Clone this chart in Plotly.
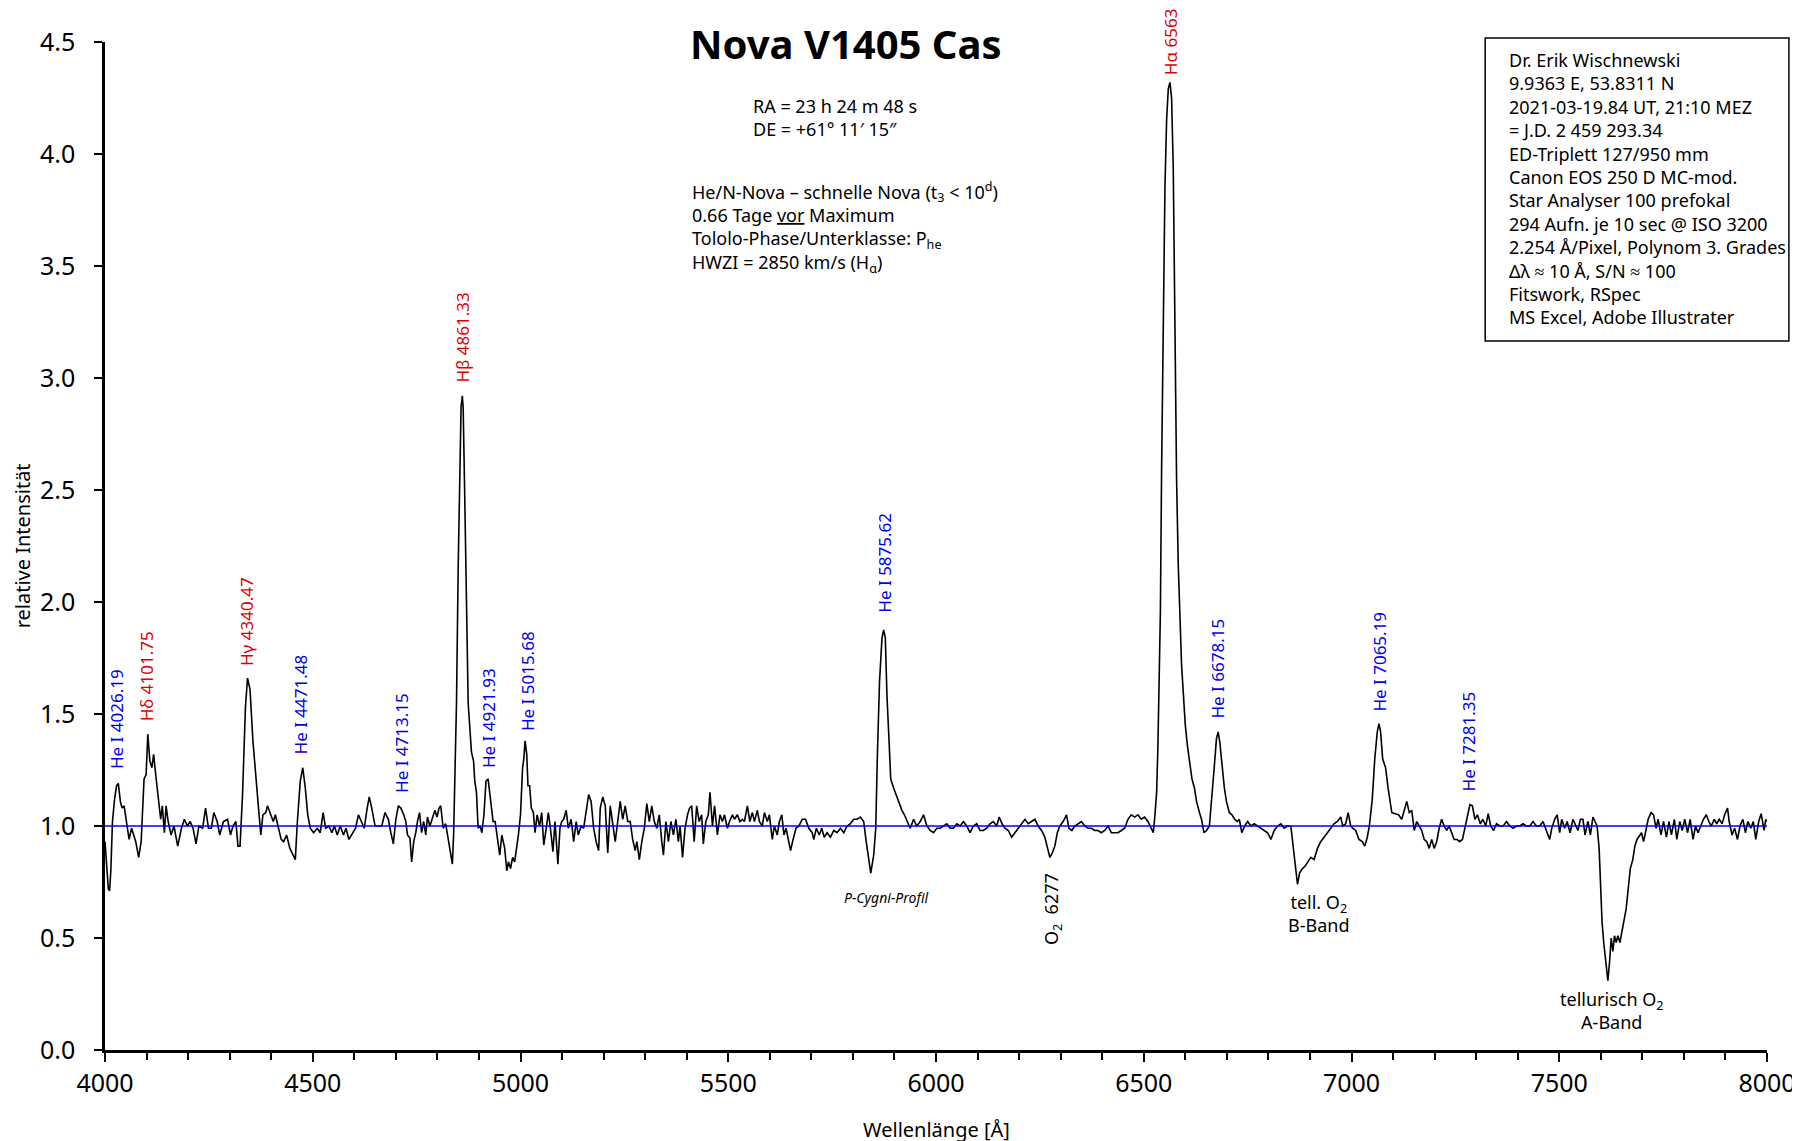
import plotly.graph_objects as go

# spectrum in pieces (wavelength in Angstrom, relative intensity)
wl_blue = [4000, 4004, 4008, 4011, 4014, 4018, 4023, 4028, 4032, 4037, 4041, 4046, 4051, 4058, 4064,
           4074, 4081, 4087, 4094, 4099, 4103, 4108, 4113, 4117, 4122, 4129, 4134, 4138, 4143, 4147,
           4152, 4159, 4166, 4175, 4184, 4191, 4198, 4205, 4212, 4219, 4226, 4235, 4242, 4249, 4256,
           4262, 4270, 4276, 4285, 4295, 4302, 4308, 4315, 4320, 4325, 4331, 4338, 4343, 4349, 4356,
           4364, 4369, 4375, 4380, 4387, 4391, 4399, 4405, 4410, 4417, 4424, 4430, 4437, 4445, 4451,
           4458, 4463, 4470, 4476, 4482, 4488, 4494, 4502, 4511, 4518, 4525, 4531, 4539, 4546, 4552,
           4559, 4566, 4574, 4580, 4587, 4594, 4603, 4610, 4617, 4624, 4631, 4636, 4642]
flux_blue = [0.93, 0.80, 0.72, 0.71, 0.80, 1.02, 1.12, 1.18, 1.19, 1.11, 1.08, 1.09, 1.03, 0.94, 0.99,
             0.93, 0.86, 0.93, 1.21, 1.23, 1.41, 1.29, 1.26, 1.32, 1.23, 1.11, 1.03, 1.09, 0.97, 1.09,
             1.02, 0.96, 1.00, 0.91, 0.99, 1.03, 1.00, 1.02, 0.99, 0.92, 1.00, 0.99, 1.08, 0.99, 0.99,
             1.06, 1.02, 0.96, 1.02, 1.03, 0.96, 1.00, 1.02, 0.91, 0.91, 1.14, 1.53, 1.66, 1.61, 1.38,
             1.18, 1.09, 0.96, 1.05, 1.06, 1.09, 1.05, 1.02, 1.05, 1.00, 0.94, 0.93, 0.96, 0.90, 0.88,
             0.85, 1.02, 1.20, 1.26, 1.17, 1.05, 0.99, 0.97, 0.99, 0.97, 1.06, 0.99, 1.00, 0.97, 1.00,
             0.96, 1.00, 0.96, 0.99, 0.94, 0.96, 0.99, 1.05, 1.02, 0.99, 1.08, 1.13, 1.08]

wl_hbeta = [4650, 4658, 4666, 4674, 4682, 4688, 4694, 4700, 4706, 4712, 4719, 4724, 4728, 4734, 4738,
            4743, 4748, 4752, 4757, 4762, 4767, 4772, 4776, 4782, 4788, 4794, 4799, 4804, 4808, 4814,
            4820, 4824, 4830, 4836, 4839, 4842, 4846, 4850, 4854, 4857, 4860, 4862, 4866, 4870, 4874,
            4878, 4882, 4887, 4890, 4894, 4898, 4903, 4907, 4912, 4917, 4922, 4926, 4930, 4934, 4939,
            4944, 4950, 4955, 4962, 4967, 4971, 4976, 4981, 4986, 4991, 4995, 5000, 5005, 5008, 5011,
            5015, 5018, 5022, 5026, 5031, 5035, 5040, 5046, 5051, 5056, 5062, 5067, 5072, 5078, 5083,
            5090, 5095, 5099, 5104, 5110, 5115, 5122, 5128, 5134, 5139, 5146, 5152]
flux_hbeta = [1.00, 1.00, 1.00, 1.06, 1.03, 0.97, 0.92, 1.03, 1.09, 1.08, 1.05, 1.02, 0.96, 0.945, 0.84,
              0.93, 0.97, 1.02, 1.06, 0.97, 1.02, 0.96, 1.04, 1.00, 1.04, 1.07, 1.04, 1.08, 1.09, 0.99,
              1.01, 0.96, 0.90, 0.83, 0.96, 1.26, 1.55, 2.15, 2.60, 2.87, 2.92, 2.87, 2.45, 1.93, 1.55,
              1.44, 1.33, 1.29, 1.20, 1.15, 0.99, 1.00, 0.97, 1.05, 1.20, 1.21, 1.14, 1.06, 1.02, 1.02,
              0.96, 0.87, 0.96, 0.90, 0.80, 0.84, 0.81, 0.86, 0.84, 0.90, 0.96, 1.05, 1.26, 1.30, 1.38,
              1.32, 1.18, 1.18, 1.08, 1.06, 0.97, 1.05, 1.00, 1.06, 0.915, 0.99, 1.06, 0.99, 0.885, 1.02,
              0.83, 0.99, 1.02, 1.03, 1.07, 0.99, 1.03, 0.93, 1.02, 0.96, 1.00, 0.99]

wl_green = [5164, 5170, 5176, 5182, 5188, 5192, 5198, 5204, 5210, 5216, 5222, 5228, 5234, 5240, 5246,
            5252, 5258, 5264, 5270, 5276, 5280, 5286, 5292, 5298, 5304, 5310, 5316, 5322, 5328, 5334,
            5340, 5344, 5350, 5356, 5362, 5368, 5374, 5380, 5384, 5390, 5396, 5402, 5407, 5412, 5418,
            5424, 5430, 5436, 5440, 5446, 5452, 5456, 5462, 5467, 5474, 5480, 5486, 5491, 5498, 5503,
            5510, 5515, 5522, 5528, 5534, 5539, 5546, 5552, 5558, 5563, 5570, 5575, 5582, 5587, 5594,
            5599, 5606, 5611, 5618, 5623, 5629, 5634, 5639, 5645, 5650, 5656, 5663, 5670, 5678, 5686,
            5694, 5702, 5706, 5712, 5719, 5725, 5731, 5738, 5746, 5754, 5762, 5770, 5778, 5786, 5794,
            5802, 5810, 5818, 5826, 5832, 5838, 5843, 5850, 5855, 5859, 5864, 5870, 5874, 5878, 5882,
            5887, 5891, 5898, 5904, 5911, 5918, 5924, 5931, 5938, 5946, 5954, 5962, 5970, 5978, 5986,
            5994, 6002, 6010, 6018, 6026, 6034, 6042, 6050, 6058, 6066, 6074, 6082, 6090, 6098, 6106]
flux_green = [1.14, 1.11, 0.99, 0.93, 0.89, 1.08, 1.13, 1.09, 0.88, 1.09, 1.02, 0.93, 1.02, 1.11, 1.03,
              1.09, 1.02, 1.02, 0.94, 0.89, 0.93, 0.85, 0.93, 0.99, 1.10, 1.02, 1.09, 1.02, 0.99, 1.05,
              0.93, 0.87, 1.02, 0.93, 1.02, 0.96, 1.03, 0.93, 1.00, 0.86, 0.99, 1.05, 1.08, 1.09, 0.93,
              1.09, 1.02, 1.05, 0.92, 1.02, 1.05, 1.15, 1.00, 1.09, 0.96, 1.05, 1.02, 1.05, 0.99, 1.02,
              1.05, 1.03, 1.05, 1.02, 1.03, 1.02, 1.09, 1.02, 1.06, 1.02, 1.07, 1.02, 1.00, 1.06, 1.02,
              1.05, 0.94, 1.00, 0.96, 1.02, 1.05, 0.96, 0.99, 0.93, 0.89, 0.94, 0.99, 1.00, 1.03, 1.03,
              0.99, 0.97, 0.94, 0.99, 0.96, 0.99, 0.95, 0.97, 0.95, 0.98, 0.97, 0.99, 0.97, 1.00, 1.01,
              1.03, 1.03, 1.04, 1.02, 0.93, 0.86, 0.79, 0.87, 0.99, 1.32, 1.64, 1.84, 1.875, 1.84, 1.58,
              1.38, 1.21, 1.17, 1.14, 1.10, 1.07, 1.05, 1.02, 0.99, 1.03, 1.00, 1.02, 1.05, 1.00, 0.98,
              0.97, 0.99, 0.99, 1.00, 1.01, 0.99, 0.99, 1.01, 1.00, 1.02, 1.00, 0.97, 1.00, 1.01, 0.98]

wl_red = [6114, 6122, 6130, 6138, 6146, 6152, 6159, 6166, 6174, 6182, 6190, 6198, 6206, 6214, 6222,
          6230, 6238, 6246, 6254, 6262, 6268, 6274, 6280, 6286, 6292, 6298, 6306, 6314, 6320, 6327,
          6334, 6342, 6350, 6358, 6366, 6374, 6382, 6390, 6398, 6406, 6414, 6422, 6430, 6438, 6446,
          6454, 6462, 6470, 6478, 6486, 6494, 6502, 6510, 6518, 6523]
flux_red = [0.98, 0.99, 1.01, 1.02, 1.00, 1.04, 1.01, 0.99, 0.98, 0.95, 0.97, 0.99, 1.01, 1.03, 1.01,
            1.02, 1.03, 1.00, 0.98, 0.95, 0.90, 0.86, 0.88, 0.91, 0.97, 1.00, 1.02, 1.05, 0.99, 0.98,
            1.00, 1.01, 1.02, 1.00, 0.99, 0.99, 0.98, 0.98, 0.97, 0.98, 1.00, 0.97, 0.97, 0.97, 0.98,
            0.99, 1.03, 1.05, 1.04, 1.05, 1.03, 1.04, 1.02, 0.99, 0.97]

wl_halpha = [6527, 6531, 6534, 6537, 6540, 6543, 6547, 6551, 6555, 6559, 6563, 6567, 6571, 6575, 6579,
             6583, 6587, 6591, 6595, 6600, 6605, 6610, 6616, 6622, 6627, 6634, 6639, 6645]
flux_halpha = [1.05, 1.15, 1.35, 1.60, 1.95, 2.60, 3.30, 3.85, 4.15, 4.29, 4.32, 4.25, 3.94, 3.25, 2.55,
               2.17, 1.93, 1.72, 1.60, 1.45, 1.36, 1.29, 1.21, 1.17, 1.11, 1.06, 1.03, 0.97]

wl_far_red = [6651, 6658, 6664, 6670, 6675, 6679, 6683, 6688, 6694, 6699, 6706, 6712, 6719, 6725, 6730,
              6736, 6743, 6750, 6758, 6766, 6774, 6782, 6790, 6798, 6806, 6814, 6822, 6830, 6838, 6846,
              6854, 6859, 6864, 6870, 6875, 6882, 6888, 6894, 6902, 6910, 6918, 6926, 6934, 6942, 6950,
              6958, 6966, 6974, 6979, 6986, 6992, 6998, 7003, 7010, 7018, 7026, 7032, 7038, 7043, 7050,
              7056, 7062, 7066, 7070, 7075, 7082, 7088, 7094]
flux_far_red = [0.98, 1.00, 1.12, 1.27, 1.39, 1.42, 1.375, 1.27, 1.17, 1.11, 1.06, 1.05, 1.03, 1.02, 1.03,
                0.97, 1.00, 1.02, 1.00, 1.01, 1.00, 0.99, 0.98, 0.97, 0.94, 0.98, 1.00, 1.01, 0.99, 1.00,
                1.00, 0.91, 0.82, 0.74, 0.79, 0.81, 0.82, 0.84, 0.86, 0.85, 0.90, 0.93, 0.95, 0.97, 0.99,
                1.01, 1.02, 1.04, 1.00, 1.01, 1.06, 1.00, 0.99, 0.98, 0.94, 0.93, 0.91, 0.95, 1.00, 1.12,
                1.30, 1.42, 1.457, 1.42, 1.30, 1.26, 1.17, 1.09]

wl_ir = [7097, 7105, 7113, 7121, 7127, 7133, 7139, 7145, 7151, 7157, 7163, 7169, 7175, 7181, 7187,
         7193, 7199, 7205, 7211, 7217, 7223, 7229, 7235, 7241, 7247, 7254, 7260, 7267, 7273, 7279,
         7285, 7291, 7297, 7303, 7310, 7316, 7323, 7329, 7335, 7342, 7349, 7357, 7365, 7373, 7381,
         7389, 7397, 7405, 7413, 7421, 7429, 7437, 7445, 7453, 7461, 7469, 7477, 7482, 7489, 7495,
         7501, 7506, 7513, 7519, 7526, 7533, 7538, 7545, 7551, 7557, 7562, 7569, 7575, 7581, 7586,
         7591, 7596, 7599, 7603, 7607, 7612, 7617, 7621, 7625, 7629, 7633, 7637, 7641, 7646, 7650,
         7655, 7661, 7666, 7671, 7677, 7682, 7687, 7693, 7698, 7703, 7709, 7714, 7721, 7727, 7733,
         7738, 7745, 7751, 7758, 7764, 7770, 7777, 7783, 7790, 7796, 7802, 7809, 7815, 7822, 7828,
         7834, 7841, 7847, 7854, 7860, 7866, 7873, 7879, 7885, 7892, 7898, 7905, 7909, 7916, 7922,
         7929, 7935, 7942, 7948, 7954, 7961, 7967, 7973, 7980, 7986, 7993, 7997, 8000]
flux_ir = [1.06, 1.055, 1.05, 1.03, 1.07, 1.11, 1.06, 1.07, 0.98, 1.02, 1.00, 0.98, 0.94, 0.93, 0.90,
           0.94, 0.90, 0.93, 0.99, 1.03, 1.00, 0.98, 1.00, 0.97, 0.94, 0.94, 0.93, 0.94, 0.99, 1.05,
           1.095, 1.09, 1.03, 1.05, 1.01, 1.03, 1.00, 1.055, 1.00, 0.98, 1.01, 1.00, 1.00, 1.02, 1.00,
           0.99, 1.00, 1.00, 1.01, 1.00, 1.00, 1.02, 1.00, 1.00, 1.02, 0.98, 0.94, 0.99, 1.03, 1.05,
           0.97, 1.03, 0.99, 1.02, 0.97, 1.03, 1.01, 0.98, 1.03, 1.03, 0.96, 1.02, 0.96, 1.04, 1.02,
           1.00, 0.90, 0.75, 0.57, 0.48, 0.38, 0.31, 0.39, 0.50, 0.44, 0.51, 0.48, 0.51, 0.48, 0.53,
           0.57, 0.63, 0.72, 0.81, 0.85, 0.91, 0.94, 0.96, 0.97, 0.93, 0.99, 1.03, 1.06, 1.05, 0.99,
           1.03, 0.96, 1.02, 0.95, 1.02, 0.96, 1.03, 0.94, 1.02, 0.98, 1.03, 0.97, 1.03, 0.94, 1.00,
           0.97, 1.00, 1.03, 1.05, 1.02, 1.00, 1.03, 1.01, 1.03, 1.01, 1.05, 1.08, 1.02, 0.96, 0.99,
           0.94, 1.00, 1.03, 0.97, 1.02, 0.99, 1.02, 0.94, 1.02, 1.055, 0.98, 1.03, 1.02]

wavelength = wl_blue + wl_hbeta + wl_green + wl_red + wl_halpha + wl_far_red + wl_ir
intensity = flux_blue + flux_hbeta + flux_green + flux_red + flux_halpha + flux_far_red + flux_ir

# line identifications: text, wavelength, height of the label foot, colour
line_text = ["He I 4026.19", "Hδ 4101.75", "Hγ 4340.47", "He I 4471.48", "He I 4713.15",
             "Hβ 4861.33", "He I 4921.93", "He I 5015.68", "He I 5875.62", "Hα 6563",
             "He I 6678.15", "He I 7065.19", "He I 7281.35"]
line_wl = [4026.19, 4101.75, 4340.47, 4471.48, 4713.15, 4861.33, 4921.93, 5015.68, 5875.62, 6563,
           6678.15, 7065.19, 7281.35]
line_foot = [1.245, 1.46, 1.705, 1.31, 1.14, 2.97, 1.25, 1.415, 1.945, 4.345, 1.47, 1.50, 1.147]
RED, BLUE = "#e00000", "#0000ee"
line_col = [BLUE, RED, RED, BLUE, BLUE, RED, BLUE, BLUE, BLUE, RED, BLUE, BLUE, BLUE]

FONT = "Noto Sans"

# plot area in pixels of the 1800x1141 page
L, R, T, B = 97, 1766, 34, 1042


def px(x):
    return (x - L) / (R - L)


def py(y):
    return (B - y) / (B - T)


def note(x, y, text, size=18, **kw):
    # paper-anchored text, placed by page pixel
    fig.add_annotation(xref="paper", yref="paper", x=px(x), y=py(y), text=text,
                       showarrow=False, yanchor="middle",
                       font=dict(family=FONT, size=size, color="black"), **kw)


fig = go.Figure()
fig.add_trace(go.Scatter(x=wavelength, y=intensity, mode="lines",
                         line=dict(color="black", width=1.6), hoverinfo="x+y"))
fig.add_hline(y=1.0, line=dict(color="#0000ff", width=1.6), layer="above")

for t, w, f, c in zip(line_text, line_wl, line_foot, line_col):
    fig.add_annotation(x=w, y=f, text=t, textangle=-90, showarrow=False,
                       xanchor="center", yanchor="bottom",
                       font=dict(family=FONT, size=17, color=c))

# telluric / profile notes
fig.add_annotation(x=5879, y=0.683, text="<i>P-Cygni-Profil</i>", showarrow=False,
                   xanchor="center", yanchor="middle",
                   font=dict(family=FONT, size=14, color="black"))
fig.add_annotation(x=6282, y=0.63, text="O<sub>2</sub>  6277", textangle=-90, showarrow=False,
                   xanchor="center", yanchor="middle",
                   font=dict(family=FONT, size=18, color="black"))
fig.add_annotation(x=6922, y=0.61, text="tell. O<sub>2</sub><br>B-Band", showarrow=False,
                   xanchor="center", yanchor="middle",
                   font=dict(family=FONT, size=18, color="black"))
fig.add_annotation(x=7625, y=0.175, text="tellurisch O<sub>2</sub><br>A-Band", showarrow=False,
                   xanchor="center", yanchor="middle",
                   font=dict(family=FONT, size=18, color="black"))

# title and info texts
note(841, 36, "<b>Nova V1405 Cas</b>", size=40, xanchor="center")
note(746, 110, "RA = 23 h 24 m 48 s<br>DE = +61° 11′ 15″", xanchor="left", align="left")
note(684, 219, ("He/N-Nova – schnelle Nova (t<sub>3</sub> &lt; 10<sup>d</sup>)<br>"
                "0.66 Tage <u>vor</u> Maximum<br>"
                "Tololo-Phase/Unterklasse: P<sub>he</sub><br>"
                "HWZI = 2850 km/s (H<sub>α</sub>)"), xanchor="left", align="left")

info_lines = ["Dr. Erik Wischnewski", "9.9363 E, 53.8311 N", "2021-03-19.84 UT, 21:10 MEZ",
              "= J.D. 2 459 293.34", "ED-Triplett 127/950 mm", "Canon EOS 250 D MC-mod.",
              "Star Analyser 100 prefokal", "294 Aufn. je 10 sec @ ISO 3200",
              "2.254 Å/Pixel, Polynom 3. Grades", "Δλ ≈ 10 Å, S/N ≈ 100", "Fitswork, RSpec",
              "MS Excel, Adobe Illustrater"]
fig.add_shape(type="rect", xref="paper", yref="paper", x0=px(1483), x1=px(1788),
              y0=py(333), y1=py(30), line=dict(color="black", width=1.5))
note(1505, 180, "<br>".join(info_lines), xanchor="left", align="left")

# axis titles
note((L + R) / 2, 1121, "Wellenlänge [Å]", size=20, xanchor="center")
note(14, (T + B) / 2, "relative Intensität", size=20, xanchor="center", textangle=-90)

fig.update_layout(
    width=1800, height=1141,
    margin=dict(l=L, r=1800 - R, t=T, b=1141 - B),
    paper_bgcolor="white", plot_bgcolor="white",
    showlegend=False,
    font=dict(family=FONT, color="black"),
)
fig.update_xaxes(range=[4000, 8000], tickvals=[4000, 4500, 5000, 5500, 6000, 6500, 7000, 7500, 8000],
                 showgrid=False, zeroline=False, showline=True, linecolor="black", linewidth=2.5,
                 ticks="outside", ticklen=9, tickwidth=2, tickcolor="black",
                 tickfont=dict(family=FONT, size=25),
                 minor=dict(dtick=100, ticks="outside", ticklen=7, tickwidth=1.5, tickcolor="black"))
fig.update_yaxes(range=[0, 4.5], dtick=0.5, tickformat=".1f",
                 showgrid=False, zeroline=False, showline=True, linecolor="black", linewidth=2.5,
                 ticks="outside", ticklen=8, tickwidth=2, tickcolor="black",
                 tickfont=dict(family=FONT, size=25), ticklabelstandoff=14)

fig.write_html("out.html")
